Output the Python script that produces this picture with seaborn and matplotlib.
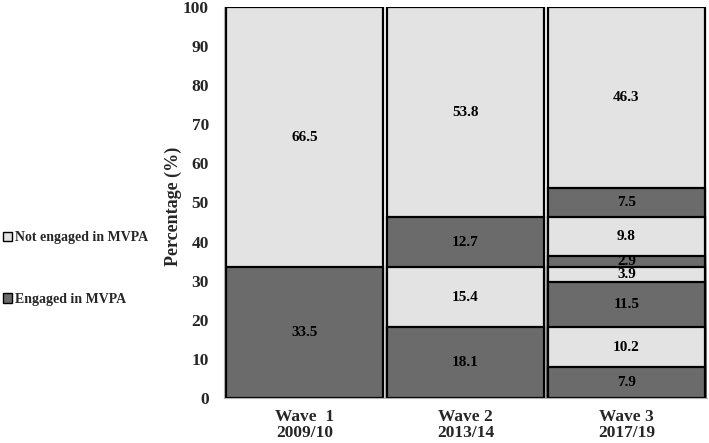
import matplotlib
matplotlib.use("Agg")
import matplotlib.pyplot as plt
import matplotlib.patches as mpatches
import seaborn as sns
import numpy as np

# segments from the bottom up; even index = engaged (dark), odd = not engaged (light)
waves = ["Wave  1\n2009/10", "Wave 2\n2013/14", "Wave 3\n2017/19"]
wave1 = [33.5, 66.5]
wave2 = [18.1, 15.4, 12.7, 53.8]
wave3 = [7.9, 10.2, 11.5, 3.9, 2.9, 9.8, 7.5, 46.3]
legend_labels = ["Not engaged in MVPA", "Engaged in MVPA"]

dark = "#6b6b6b"
light = "#e3e3e3"

sns.set_style("white")
plt.rcParams["font.family"] = ["Liberation Serif", "DejaVu Serif"]
plt.rcParams["font.weight"] = "bold"

fig = plt.figure(figsize=(7.09, 4.43), dpi=100)
ax = fig.add_axes([0.316, 0.102, 0.681, 0.882])

segs = [wave1, wave2, wave3]
n_max = max(len(s) for s in segs)

# draw cumulative tops from the highest level down so lower ones sit on top
for i in range(n_max - 1, -1, -1):
    xs, tops = [], []
    for w, s in zip(waves, segs):
        if i < len(s):
            xs.append(w)
            tops.append(sum(s[:i + 1]))
    sns.barplot(x=xs, y=tops, order=waves, color=dark if i % 2 == 0 else light,
                width=0.975, edgecolor="black", linewidth=1.6, saturation=1, ax=ax)

# value labels
for j, s in enumerate(segs):
    bottom = 0
    for v in s:
        ax.text(j, bottom + v / 2, f"{v}", ha="center", va="center",
                fontsize=11, fontweight="bold", color="black")
        bottom += v

ax.set_ylim(0, 100)
ax.set_xlim(-0.5, 2.5)
ax.set_yticks(np.arange(0, 101, 10))
ax.tick_params(axis="y", labelsize=12.5, length=3, color="#b0b0b0", width=1, pad=8)
ax.tick_params(axis="x", which="major", labelsize=12.5, length=0, pad=8)
ax.set_xticks([-0.5, 0.5, 1.5, 2.5], minor=True)
ax.tick_params(axis="x", which="minor", length=5, color="#b0b0b0", width=1)
ax.set_ylabel("Percentage (%)", fontsize=13, fontweight="bold")
ax.yaxis.set_label_coords(-0.088, 0.49)
ax.set_xlabel("")
for lab in ax.get_yticklabels():
    lab.set_fontweight("bold")
for lab in ax.get_xticklabels():
    lab.set_fontweight("bold")
    lab.set_linespacing(1.0)

sns.despine(ax=ax)
ax.spines["left"].set_color("#b0b0b0")
ax.spines["bottom"].set_color("#b0b0b0")

handles = [mpatches.Patch(facecolor=light, edgecolor="black", linewidth=1),
           mpatches.Patch(facecolor=dark, edgecolor="black", linewidth=1)]
fig.legend(handles, legend_labels, loc="upper left", bbox_to_anchor=(3 / 709, 0.478),
           frameon=False, prop={"size": 10, "weight": "bold"}, borderpad=0, borderaxespad=0,
           handlelength=0.65, handleheight=0.65, handletextpad=0.2, labelspacing=3.5)

fig.savefig("out.png", dpi=100)
